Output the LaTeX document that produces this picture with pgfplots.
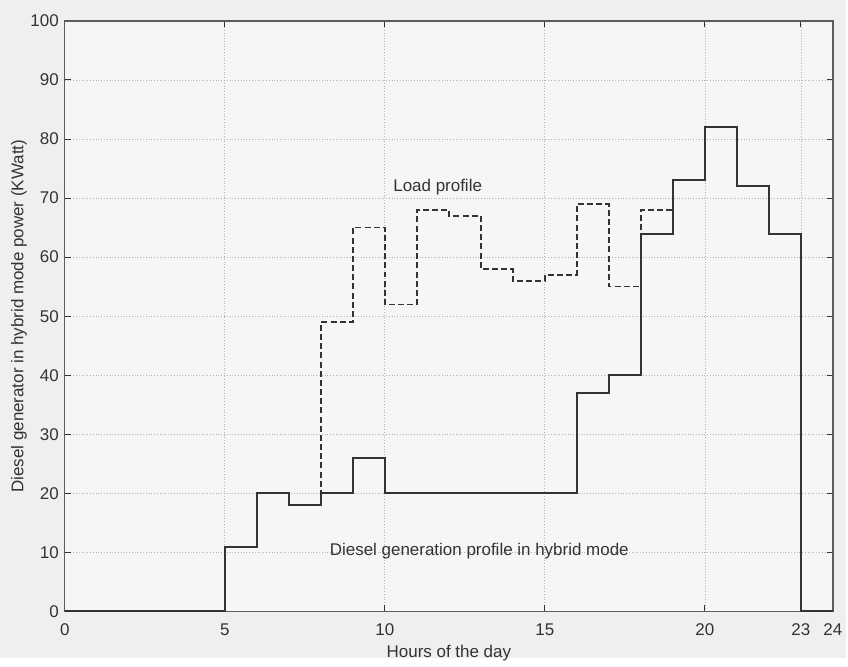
\documentclass[border=0pt]{standalone}
\usepackage{fontspec}
\setmainfont{Liberation Sans}
\usepackage{pgfplots}
\pgfplotsset{compat=1.18}
\definecolor{ink}{HTML}{333333}
\definecolor{bg}{HTML}{EFEFEF}
\definecolor{inbg}{HTML}{F6F6F6}
\begin{document}
\fontsize{8.5}{10}\selectfont
\begin{tikzpicture}
\fill[bg] (-32.5pt,-23.5pt) rectangle (391.5pt,306.5pt);
\begin{axis}[
  at={(0,0)}, anchor=south west,
  scale only axis,
  width=385pt, height=296pt,
  xmin=0, xmax=24, ymin=0, ymax=100,
  xtick={0,5,10,15,20,23,24},
  ytick={0,10,...,100},
  grid=major,
  major grid style={densely dotted, gray!60, line width=0.4pt},
  axis line style={ink!80, line width=0.6pt},
  tick style={ink, line width=0.5pt},
  tick align=inside,
  major tick length=3pt,
  axis background/.style={fill=inbg},
  /pgf/number format/assume math mode=true,
  ticklabel style={font=\fontsize{8.5}{10}\selectfont, text=ink},
  xticklabel style={yshift=-3pt},
  label style={font=\fontsize{8.5}{10}\selectfont, text=ink},
  xlabel={Hours of the day},
  ylabel={Diesel generator in hybrid mode power (KWatt)},
  xlabel style={yshift=1pt},
  ylabel style={yshift=-4pt},
  clip=false,
]
\addplot[const plot, ink, line width=1pt] coordinates {
  (0,0) (5,11) (6,20) (7,18) (8,20) (9,26) (10,20) (11,20) (12,20) (13,20) (14,20) (15,20)
  (16,37) (17,40) (18,64) (19,73) (20,82) (21,72) (22,64) (23,0) (24,0)
};
\addplot[const plot, ink, line width=0.8pt, dash pattern=on 3pt off 1.6pt] coordinates {
  (8,18) (8,49) (9,65) (10,52) (11,68) (12,67) (13,58) (14,56) (15,57)
  (16,69) (17,55) (18,68) (19,68)
};
\node[text=ink, font=\fontsize{8.5}{10}\selectfont] at (axis cs:11.65,71.8) {Load profile};
\node[text=ink, font=\fontsize{8.5}{10}\selectfont] at (axis cs:12.95,10.3) {Diesel generation profile in hybrid mode};
\end{axis}
\end{tikzpicture}
\end{document}
